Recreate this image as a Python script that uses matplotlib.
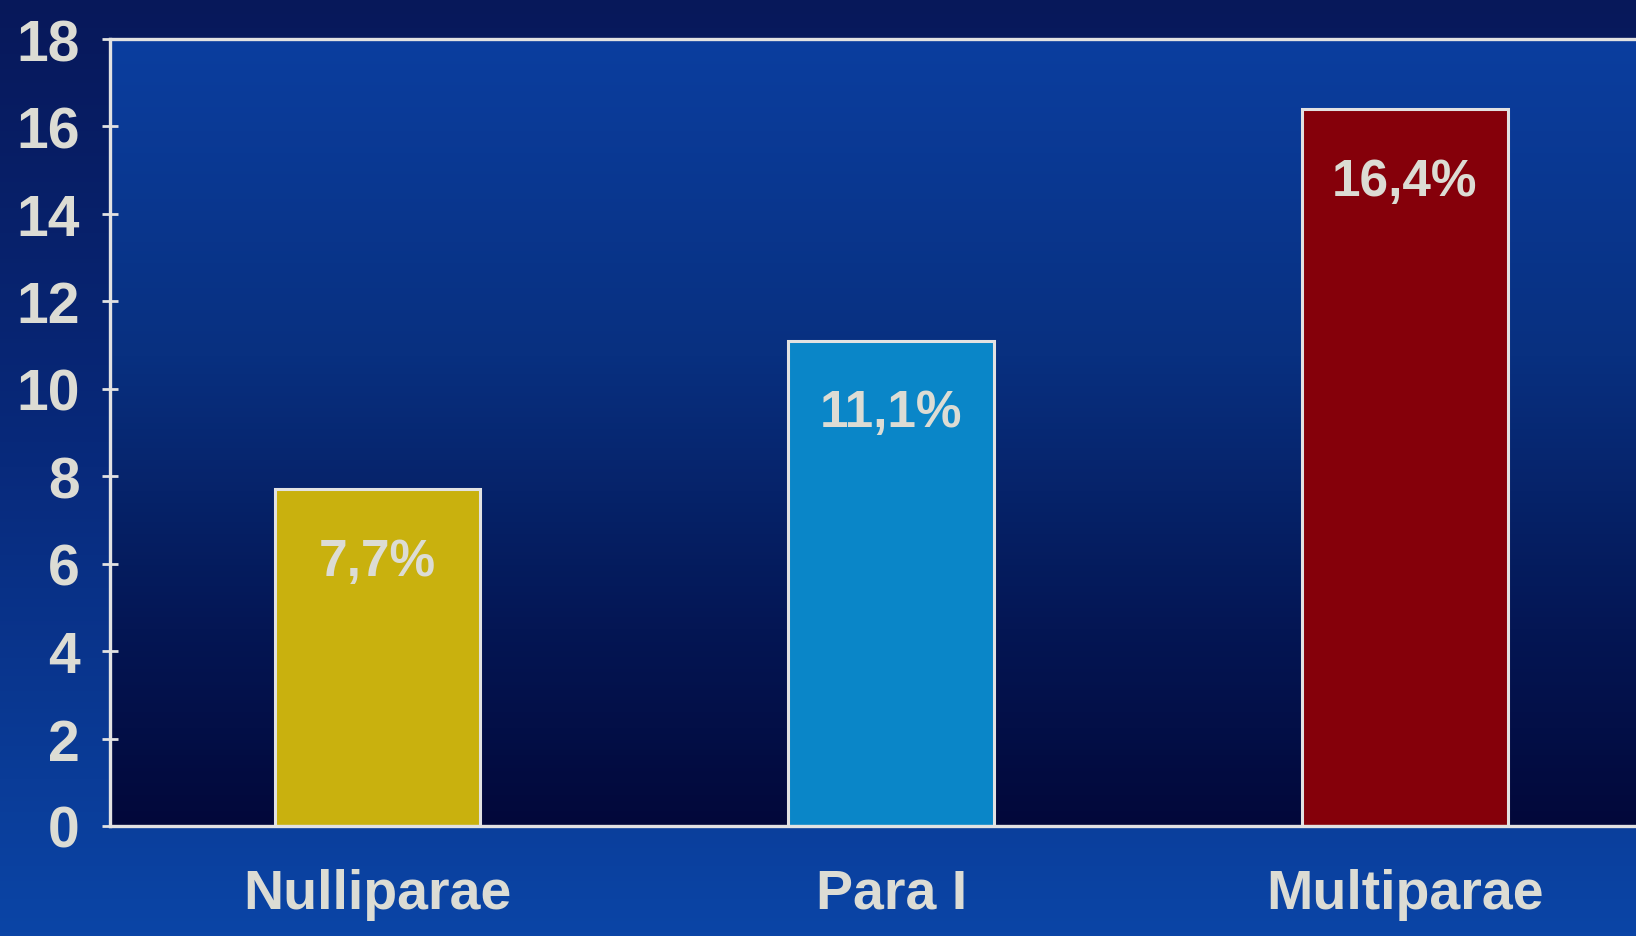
import numpy as np
import matplotlib
matplotlib.use("Agg")
import matplotlib.pyplot as plt
from matplotlib.colors import LinearSegmentedColormap

categories = ["Nulliparae", "Para I", "Multiparae"]
values = [7.7, 11.1, 16.4]
value_labels = ["7,7%", "11,1%", "16,4%"]
bar_colors = ["#c9b10e", "#0a86c8", "#85000a"]
yticks = [0, 2, 4, 6, 8, 10, 12, 14, 16, 18]

plt.rcParams['font.family'] = ['Liberation Sans Narrow', 'Liberation Sans', 'DejaVu Sans']
plt.rcParams['font.weight'] = 'bold'
text_color = "#dcdcd4"
line_color = "#e2e2e2"


def main():
    fig = plt.figure(figsize=(16.36, 9.37), dpi=100)

    # slide background: dark navy at top, brighter blue at bottom
    bg = fig.add_axes([0, 0, 1, 1], zorder=-1)
    bg_cmap = LinearSegmentedColormap.from_list(
        "bg", ["#07185a", "#082a7c", "#0b45a6"])
    grad = np.linspace(0, 1, 256).reshape(-1, 1)
    bg.imshow(grad, cmap=bg_cmap, aspect="auto", extent=[0, 1, 0, 1],
              origin="upper")
    bg.set_axis_off()

    ax = fig.add_axes([0.0672, 0.1174, 0.9328, 0.8399])
    ax.set_xlim(-0.521, 2.45)
    ax.set_ylim(0, 18)

    # plot area: bright blue on top fading to dark navy near the baseline
    in_cmap = LinearSegmentedColormap.from_list(
        "inside", [(0, "#0b3e9f"), (0.4, "#083080"), (0.75, "#041654"),
                   (1, "#02083a")])
    ax.imshow(grad, cmap=in_cmap, aspect="auto",
              extent=[-0.521, 2.45, 0, 18], origin="upper", zorder=0)

    x = np.arange(len(categories))
    ax.bar(x, values, width=0.40, color=bar_colors, edgecolor=line_color,
           linewidth=2.2, zorder=2)

    for xi, v, lab in zip(x, values, value_labels):
        ax.text(xi, v - 1.65, lab, ha="center", va="center",
                fontsize=37, color=text_color, fontweight="bold", zorder=3)

    ax.set_xticks(x)
    ax.set_xticklabels(categories)
    ax.set_yticks(yticks)
    ax.tick_params(axis="x", length=0, pad=30, labelsize=40,
                   labelcolor=text_color)
    ax.tick_params(axis="y", direction="inout", length=12, width=2,
                   color=line_color, pad=16, labelsize=41,
                   labelcolor=text_color)

    for side in ["left", "bottom", "top"]:
        ax.spines[side].set_color(line_color)
        ax.spines[side].set_linewidth(2.4)
        ax.spines[side].set_zorder(4)
    ax.spines["right"].set_visible(False)

    plt.savefig("out.png", dpi=100)


if __name__ == "__main__":
    main()
